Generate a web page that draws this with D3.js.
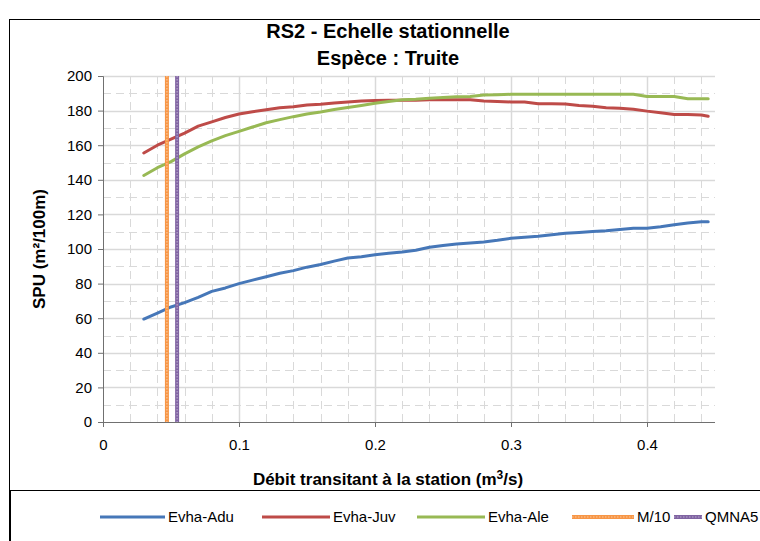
<!DOCTYPE html>
<html>
<head>
<meta charset="utf-8">
<script src="https://cdn.jsdelivr.net/npm/d3@7"></script>
<style>
  body { margin: 0; background: #fff; }
  text { font-family: "Liberation Sans", Arial, sans-serif; fill: #000; }
</style>
</head>
<body>
<svg id="chart" width="760" height="541"></svg>
<script>
// débits (m3/s) et SPU
const debits = [0.03, 0.04, 0.05, 0.06, 0.07, 0.08, 0.09, 0.10, 0.11, 0.12, 0.13, 0.14, 0.15,
  0.16, 0.17, 0.18, 0.19, 0.20, 0.21, 0.22, 0.23, 0.24, 0.25, 0.26, 0.27, 0.28, 0.29, 0.30,
  0.31, 0.32, 0.33, 0.34, 0.35, 0.36, 0.37, 0.38, 0.39, 0.40, 0.41, 0.42, 0.43, 0.44, 0.445];
const evhaAdu = [59.5, 63, 66.5, 69, 72, 75.5, 77.5, 80, 82, 84, 86, 87.5, 89.5,
  91, 93, 94.8, 95.5, 96.7, 97.5, 98.3, 99.3, 101, 102, 102.9, 103.4, 104, 105, 106.2,
  106.8, 107.4, 108.3, 109.1, 109.6, 110.1, 110.6, 111.3, 112, 112, 112.8, 114, 115, 115.7, 115.7];
const evhaJuv = [155.5, 160, 163.5, 167, 171, 173.5, 176, 178, 179.3, 180.5, 181.7, 182.2, 183.2,
  183.7, 184.4, 185, 185.5, 185.8, 186, 186, 186, 186.3, 186.3, 186.3, 186.3, 185.5, 185.2, 185,
  185, 184, 184, 183.8, 183, 182.5, 181.7, 181.3, 180.8, 179.7, 178.8, 177.8, 177.8, 177.5, 176.7];
const evhaAle = [142.5, 147, 150.5, 155, 159, 162.5, 165.5, 168, 170.5, 173, 174.8, 176.5, 178,
  179.2, 180.6, 181.8, 183, 184.2, 185.3, 186.3, 186.5, 187.2, 187.6, 188, 188.1, 189, 189.2, 189.4,
  189.4, 189.4, 189.4, 189.4, 189.4, 189.4, 189.4, 189.4, 189.4, 188.2, 188.2, 188.2, 186.9, 186.9, 186.9];

// débits de référence
const refNames = ['M/10', 'QMNA5'];
const refDebits = [0.047, 0.0545];

const seriesNames = ['Evha-Adu', 'Evha-Juv', 'Evha-Ale'];
const yTicks = [0, 20, 40, 60, 80, 100, 120, 140, 160, 180, 200];
const xTicks = [0, 0.1, 0.2, 0.3, 0.4];

const svg = d3.select('#chart');
const plot = { left: 103, right: 715, top: 76, bottom: 422 };

const x = d3.scaleLinear().domain([0, 0.45]).range([plot.left, plot.right]);
const y = d3.scaleLinear().domain([0, 200]).range([plot.bottom, plot.top]);

// cadre du graphique
svg.append('rect')
  .attr('x', 9.5).attr('y', 19.5).attr('width', 760).attr('height', 540)
  .attr('fill', 'none').attr('stroke', '#000').attr('stroke-width', 1);

// titre
svg.append('text').attr('x', 388).attr('y', 38).attr('text-anchor', 'middle')
  .style('font-size', '20px').style('font-weight', 'bold').text('RS2 - Echelle stationnelle');
svg.append('text').attr('x', 388).attr('y', 65).attr('text-anchor', 'middle')
  .style('font-size', '20px').style('font-weight', 'bold').text('Espèce : Truite');

// grille secondaire (pointillés)
const grid = svg.append('g');
grid.selectAll('.hminor')
  .data(d3.range(10, 200, 20))
  .enter().append('line')
  .attr('x1', plot.left).attr('x2', plot.right)
  .attr('y1', d => Math.round(y(d)) + 0.5).attr('y2', d => Math.round(y(d)) + 0.5)
  .attr('stroke', '#d9d9d9').attr('stroke-dasharray', '8,5');
grid.selectAll('.vminor')
  .data(d3.range(0.02, 0.45, 0.02).filter(d => Math.abs(d * 10 - Math.round(d * 10)) > 0.01))
  .enter().append('line')
  .attr('y1', plot.top).attr('y2', plot.bottom)
  .attr('x1', d => Math.round(x(d)) + 0.5).attr('x2', d => Math.round(x(d)) + 0.5)
  .attr('stroke', '#d9d9d9').attr('stroke-dasharray', '8,5');

// grille principale
grid.selectAll('.hmajor')
  .data(yTicks.slice(1))
  .enter().append('line')
  .attr('x1', plot.left).attr('x2', plot.right)
  .attr('y1', d => Math.round(y(d)) + 0.5).attr('y2', d => Math.round(y(d)) + 0.5)
  .attr('stroke', '#d9d9d9').attr('stroke-width', 1.5);
grid.selectAll('.vmajor')
  .data(xTicks.slice(1))
  .enter().append('line')
  .attr('y1', plot.top).attr('y2', plot.bottom)
  .attr('x1', d => Math.round(x(d)) + 0.5).attr('x2', d => Math.round(x(d)) + 0.5)
  .attr('stroke', '#d9d9d9').attr('stroke-width', 1.5);

// axes
const yAxis = svg.append('g')
  .attr('transform', `translate(${plot.left},0)`)
  .call(d3.axisLeft(y).tickValues(yTicks).tickSize(5).tickPadding(6).tickFormat(d3.format('d')));
const xAxis = svg.append('g')
  .attr('transform', `translate(0,${plot.bottom})`)
  .call(d3.axisBottom(x).tickValues(xTicks).tickSize(5).tickPadding(12).tickFormat(d => d === 0 ? '0' : d3.format('.1f')(d)));
[yAxis, xAxis].forEach(ax => {
  ax.select('.domain').attr('stroke', '#707070');
  ax.selectAll('.tick line').attr('stroke', '#707070');
  ax.selectAll('.tick text').style('font-size', '15px').attr('fill', '#000');
});
xAxis.select('.domain').attr('d', `M${plot.left},0.5H${plot.right}`);

// courbes
const colors = ['#4677b8', '#be4b48', '#98b954'];
const seriesData = [evhaAdu, evhaJuv, evhaAle];
const line = d3.line().x(d => x(d[0])).y(d => y(d[1]));
seriesData.forEach((vals, i) => {
  svg.append('path')
    .datum(debits.map((q, j) => [q, vals[j]]))
    .attr('d', line)
    .attr('fill', 'none')
    .attr('stroke', colors[i])
    .attr('stroke-width', 3)
    .attr('stroke-linejoin', 'round')
    .attr('stroke-linecap', 'round');
});

// débits de référence
const refColors = ['#f79646', '#8064a2'];
const refLight = ['#fbc79c', '#b8a7cd'];
refDebits.forEach((q, i) => {
  svg.append('line')
    .attr('x1', x(q)).attr('x2', x(q)).attr('y1', plot.top).attr('y2', plot.bottom)
    .attr('stroke', refColors[i]).attr('stroke-width', 4);
  svg.append('line')
    .attr('x1', x(q)).attr('x2', x(q)).attr('y1', plot.top).attr('y2', plot.bottom)
    .attr('stroke', refLight[i]).attr('stroke-width', 1.2).attr('stroke-dasharray', '1.5,1.5');
});

// titres des axes
svg.append('text').attr('x', 388).attr('y', 485).attr('text-anchor', 'middle')
  .style('font-size', '17px').style('font-weight', 'bold')
  .html('Débit transitant à la station (m<tspan dy="-6" style="font-size:12px">3</tspan><tspan dy="6">/s)</tspan>');
svg.append('text').attr('transform', 'translate(45,249) rotate(-90)').attr('text-anchor', 'middle')
  .style('font-size', '17px').style('font-weight', 'bold').text('SPU (m²/100m)');

// légende
svg.append('rect')
  .attr('x', 10.5).attr('y', 490.5).attr('width', 760).attr('height', 60)
  .attr('fill', '#fff').attr('stroke', '#000');
const legendItems = [
  { name: seriesNames[0], color: colors[0], x: 100, len: 65 },
  { name: seriesNames[1], color: colors[1], x: 262, len: 68 },
  { name: seriesNames[2], color: colors[2], x: 417, len: 68 },
  { name: refNames[0], color: refColors[0], light: refLight[0], x: 572, len: 62 },
  { name: refNames[1], color: refColors[1], light: refLight[1], x: 674, len: 28 }
];
const legend = svg.append('g');
legendItems.forEach(it => {
  legend.append('line').attr('x1', it.x).attr('x2', it.x + it.len).attr('y1', 517).attr('y2', 517)
    .attr('stroke', it.color).attr('stroke-width', it.light ? 4 : 3);
  if (it.light) {
    legend.append('line').attr('x1', it.x).attr('x2', it.x + it.len).attr('y1', 517).attr('y2', 517)
      .attr('stroke', it.light).attr('stroke-width', 1.2).attr('stroke-dasharray', '1.5,1.5');
  }
  legend.append('text').attr('x', it.x + it.len + 3).attr('y', 522)
    .style('font-size', '15px').text(it.name);
});
</script>
</body>
</html>
